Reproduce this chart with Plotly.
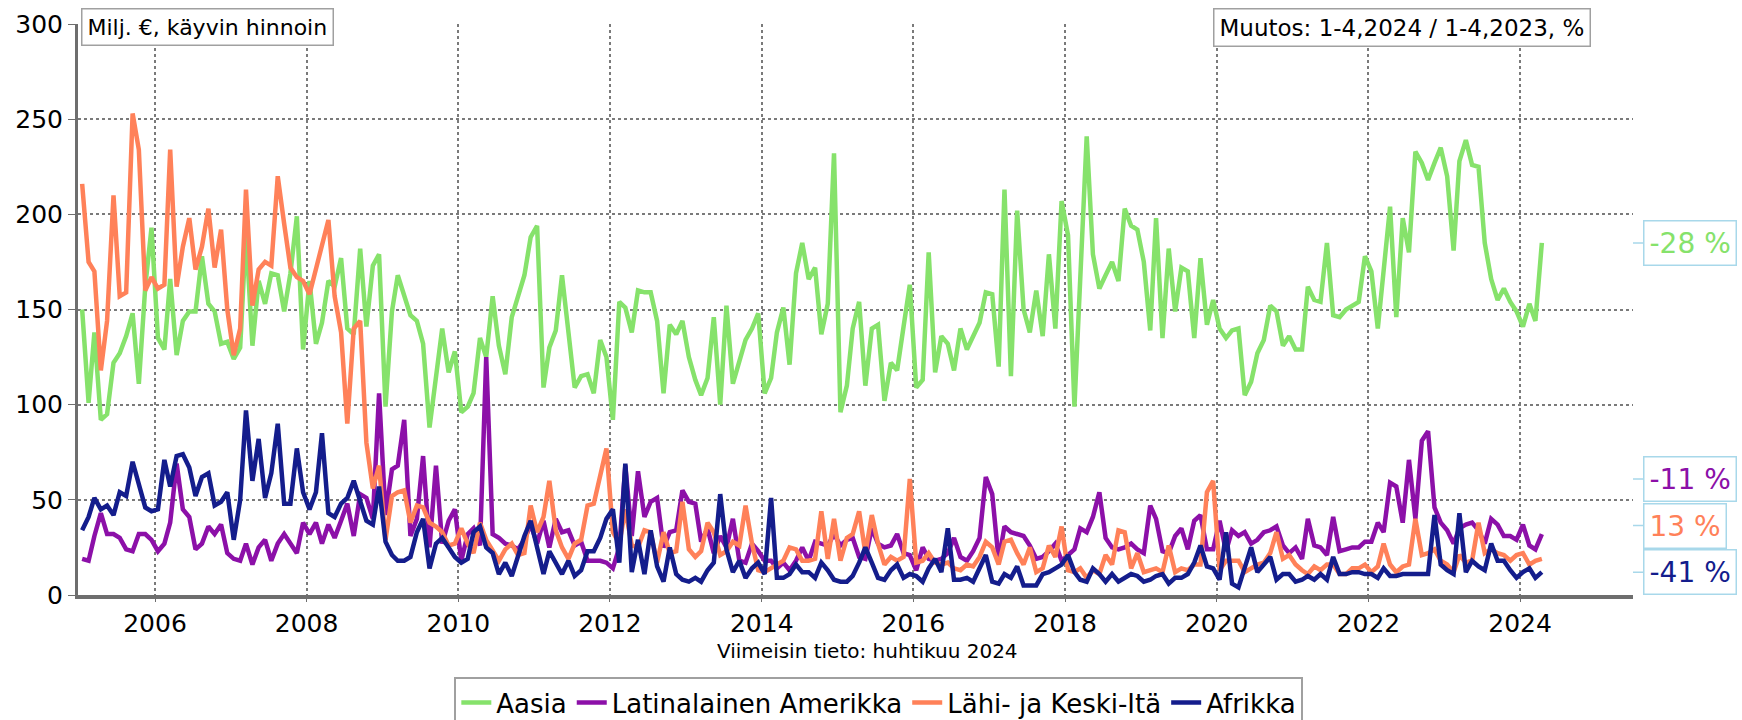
import pandas as pd
import plotly.graph_objects as go

# Monthly data, Jan 2005 .. Apr 2024 (milj. €)
months = pd.date_range("2005-01-01", periods=232, freq="MS") + pd.Timedelta(days=14)

aasia = [
    150, 101, 138, 92, 95, 122, 127, 136, 148, 111, 162, 193,   # 2005
    135, 129, 166, 126, 144, 149, 149, 178, 153, 149, 132, 133,  # 2006
    124, 130, 190, 131, 165, 153, 169, 168, 149, 169, 199, 129,  # 2007
    165, 132, 143, 165, 162, 177, 140, 137, 182, 141, 173, 179,  # 2008
    99, 149, 168, 157, 147, 144, 132, 88, 114, 140, 117, 128,    # 2009
    96, 99, 106, 135, 125, 157, 131, 116, 146, 157, 168, 188,    # 2010
    194, 109, 130, 139, 168, 138, 109, 115, 116, 106, 134, 125,  # 2011
    92, 154, 151, 138, 160, 159, 159, 144, 106, 142, 137, 144,   # 2012
    125, 113, 105, 114, 146, 100, 152, 111, 122, 134, 140, 148,  # 2013
    106, 114, 138, 151, 121, 169, 185, 166, 172, 137, 153, 232,  # 2014
    96, 110, 140, 154, 110, 140, 142, 102, 122, 118, 141, 163,   # 2015
    109, 113, 180, 117, 136, 132, 118, 140, 129, 136, 143, 159,  # 2016
    158, 120, 213, 115, 202, 150, 138, 160, 136, 179, 140, 207,  # 2017
    189, 99, 172, 241, 179, 161, 168, 175, 165, 203, 194, 192,   # 2018
    175, 139, 198, 135, 182, 149, 172, 170, 135, 177, 142, 155,  # 2019
    140, 135, 139, 140, 105, 112, 127, 134, 152, 149, 131, 136,  # 2020
    129, 129, 162, 155, 154, 185, 147, 146, 150, 152, 154, 178,  # 2021
    170, 140, 171, 204, 146, 198, 180, 233, 227, 218, 227, 235,  # 2022
    220, 181, 228, 239, 226, 225, 185, 166, 155, 161, 154, 149,  # 2023
    141, 153, 144, 185,                                          # 2024
]

latinalainen = [
    19, 18, 31, 43, 32, 32, 30, 24, 23, 32, 32, 29,
    23, 27, 38, 69, 45, 41, 24, 27, 36, 32, 37, 22,
    19, 18, 27, 16, 25, 29, 18, 27, 32, 27, 22, 38,
    32, 38, 27, 37, 30, 39, 48, 31, 53, 51, 40, 106,
    42, 66, 68, 92, 31, 40, 73, 25, 68, 27, 39, 45,
    18, 32, 35, 26, 125, 32, 30, 27, 26, 24, 29, 37,
    27, 39, 25, 40, 33, 34, 26, 28, 18, 18, 18, 17,
    14, 25, 68, 31, 65, 41, 49, 51, 25, 33, 34, 55,
    49, 48, 28, 35, 22, 31, 25, 40, 18, 17, 27, 23,
    18, 18, 14, 17, 13, 18, 25, 18, 28, 27, 26, 32,
    26, 29, 30, 20, 19, 35, 27, 25, 26, 32, 22, 21,
    13, 25, 19, 18, 19, 22, 30, 20, 18, 23, 30, 62,
    53, 18, 36, 33, 32, 31, 26, 19, 20, 23, 27, 18,
    21, 24, 35, 33, 41, 54, 30, 25, 24, 25, 27, 24,
    22, 47, 40, 23, 22, 31, 35, 24, 39, 42, 24, 24,
    39, 23, 34, 31, 33, 27, 29, 33, 34, 36, 26, 22,
    25, 19, 40, 26, 25, 21, 41, 23, 24, 25, 25, 28,
    28, 38, 33, 59, 57, 38, 71, 40, 81, 86, 46, 38,
    34, 27, 35, 37, 38, 34, 27, 40, 37, 31, 31, 29,
    37, 26, 24, 32,
]

lahi_ita = [
    216, 175, 170, 118, 144, 210, 157, 159, 253, 234, 160, 167,
    161, 163, 234, 162, 183, 198, 171, 183, 203, 172, 192, 150,
    126, 140, 213, 152, 171, 175, 173, 220, 195, 172, 167, 165,
    158, 172, 183, 197, 157, 138, 90, 140, 144, 80, 56, 68,
    29, 52, 54, 55, 38, 47, 46, 38, 36, 33, 26, 27,
    35, 27, 22, 38, 29, 23, 18, 24, 27, 21, 22, 47,
    33, 41, 60, 34, 25, 19, 27, 29, 47, 48, 62, 77,
    33, 27, 45, 26, 25, 34, 33, 17, 33, 22, 23, 49,
    24, 20, 23, 38, 33, 21, 23, 28, 26, 47, 27, 13,
    12, 14, 16, 18, 25, 24, 18, 18, 19, 44, 19, 40,
    18, 30, 32, 44, 22, 42, 27, 16, 20, 18, 20, 61,
    17, 18, 22, 17, 16, 17, 14, 13, 16, 15, 20, 28,
    25, 16, 28, 29, 22, 16, 25, 12, 14, 26, 20, 36,
    13, 12, 14, 9, 13, 11, 21, 16, 34, 33, 14, 22,
    12, 13, 14, 12, 26, 12, 14, 13, 16, 16, 54, 60,
    13, 18, 18, 18, 12, 14, 16, 17, 22, 33, 19, 21,
    16, 13, 11, 15, 13, 16, 16, 11, 11, 14, 14, 16,
    12, 15, 27, 16, 12, 15, 16, 40, 21, 22, 24, 18,
    16, 12, 21, 17, 18, 38, 22, 24, 22, 21, 18, 21,
    22, 16, 18, 19,
]

afrikka = [
    34, 41, 51, 45, 47, 42, 54, 52, 70, 59, 46, 44,
    45, 71, 57, 73, 74, 67, 52, 62, 64, 47, 49, 54,
    29, 50, 97, 60, 82, 51, 64, 90, 48, 48, 77, 54,
    45, 54, 85, 43, 41, 48, 51, 60, 50, 39, 37, 57,
    28, 21, 18, 18, 20, 33, 40, 14, 27, 30, 25, 20,
    17, 19, 33, 36, 25, 22, 11, 17, 10, 20, 31, 39,
    25, 11, 23, 17, 11, 18, 10, 13, 23, 23, 30, 40,
    45, 17, 69, 12, 29, 11, 34, 15, 7, 25, 11, 8,
    7, 9, 7, 13, 17, 53, 24, 12, 18, 9, 14, 17,
    11, 51, 9, 9, 11, 16, 12, 12, 9, 17, 13, 8,
    7, 7, 10, 17, 25, 17, 9, 8, 13, 16, 9, 11,
    10, 7, 14, 19, 12, 35, 8, 8, 9, 7, 14, 21,
    7, 6, 11, 9, 15, 5, 5, 5, 11, 12, 14, 16,
    21, 12, 8, 7, 14, 11, 7, 11, 7, 9, 11, 10,
    7, 8, 10, 11, 6, 9, 9, 11, 17, 26, 15, 14,
    8, 33, 6, 4, 14, 25, 12, 16, 20, 8, 11, 11,
    7, 8, 10, 8, 11, 8, 20, 11, 11, 12, 12, 11,
    11, 9, 14, 10, 10, 11, 11, 11, 11, 11, 42, 16,
    13, 11, 43, 12, 18, 15, 13, 27, 18, 18, 13, 9,
    12, 14, 9, 12,
]

names = ["Aasia", "Latinalainen Amerikka", "Lähi- ja Keski-Itä", "Afrikka"]
values = [aasia, latinalainen, lahi_ita, afrikka]
colors = ["#86e26b", "#8c10a8", "#ff8159", "#141d8c"]
changes = ["-28 %", "-11 %", "13 %", "-41 %"]

FONT = "DejaVu Sans, Verdana, sans-serif"

fig = go.Figure()
for name, vals, col in zip(names, values, colors):
    fig.add_trace(go.Scatter(x=months[:len(vals)], y=vals, name=name, mode="lines",
                             line=dict(color=col, width=4.5)))

# change labels stacked at the right edge (pushed apart so they don't overlap)
last = [v[-1] for v in values]
order = sorted(range(len(values)), key=lambda k: last[k])
label_y = {}
prev = None
for k in order:
    yv = max(last[k], 11.5) if prev is None else max(last[k], prev + 24.5)
    label_y[k] = yv
    prev = yv

annotations = [
    dict(text="Milj. €, käyvin hinnoin", xref="paper", yref="paper", x=0.002, y=1.028,
         xanchor="left", yanchor="top", showarrow=False, bgcolor="white",
         bordercolor="#a0a0a0", borderwidth=1.5, borderpad=5,
         font=dict(family=FONT, size=22, color="black")),
    dict(text="Muutos: 1-4,2024 / 1-4,2023, %", xref="paper", yref="paper", x=0.973, y=1.028,
         xanchor="right", yanchor="top", showarrow=False, bgcolor="white",
         bordercolor="#a0a0a0", borderwidth=1.5, borderpad=5,
         font=dict(family=FONT, size=23, color="black")),
    dict(text="Viimeisin tieto: huhtikuu 2024", xref="paper", yref="paper", x=0.5074, y=-0.098,
         xanchor="center", yanchor="middle", showarrow=False,
         font=dict(family=FONT, size=20, color="black")),
]
for k in range(len(values)):
    annotations.append(dict(
        text=changes[k], xref="paper", yref="y", x=1.0, y=label_y[k],
        showarrow=True, ax=10, ay=0, arrowhead=0, arrowwidth=1.5, arrowcolor="#a8d8ea",
        xanchor="left", yanchor="middle", bgcolor="white",
        bordercolor="#a8d8ea", borderwidth=1.5, borderpad=5,
        font=dict(family=FONT, size=28, color=colors[k])))

fig.update_layout(
    width=1742, height=720,
    margin=dict(l=78, r=109, t=24, b=125, pad=0, autoexpand=False),
    paper_bgcolor="white", plot_bgcolor="white",
    font=dict(family=FONT, color="black"),
    showlegend=True,
    legend=dict(orientation="h", x=0.515, xanchor="center", y=-0.1436, yanchor="top",
                bordercolor="#a0a0a0", borderwidth=2, bgcolor="white",
                font=dict(family=FONT, size=26, color="black"), itemwidth=30,
                traceorder="normal"),
    annotations=annotations,
    xaxis=dict(type="date", range=["2004-12-26", "2025-06-28"],
               tick0="2006-01-01", dtick="M24", tickformat="%Y",
               showgrid=True, gridcolor="#7a7a7a", griddash="dot", gridwidth=1.5,
               showline=True, linecolor="#6e6e6e", linewidth=4,
               ticks="outside", ticklen=3, tickcolor="#6e6e6e", tickwidth=1,
               tickfont=dict(family=FONT, size=25, color="black"), zeroline=False),
    yaxis=dict(range=[0, 300], dtick=50, tick0=0,
               showgrid=True, gridcolor="#7a7a7a", griddash="dot", gridwidth=1.5,
               showline=True, linecolor="#6e6e6e", linewidth=3,
               ticks="outside", ticklen=7, tickcolor="#6e6e6e", tickwidth=1,
               tickfont=dict(family=FONT, size=25, color="black"), zeroline=False),
)

fig.write_html("out.html", config={"displayModeBar": False},
               post_script="document.body.style.margin='0';document.body.style.overflow='hidden';")
